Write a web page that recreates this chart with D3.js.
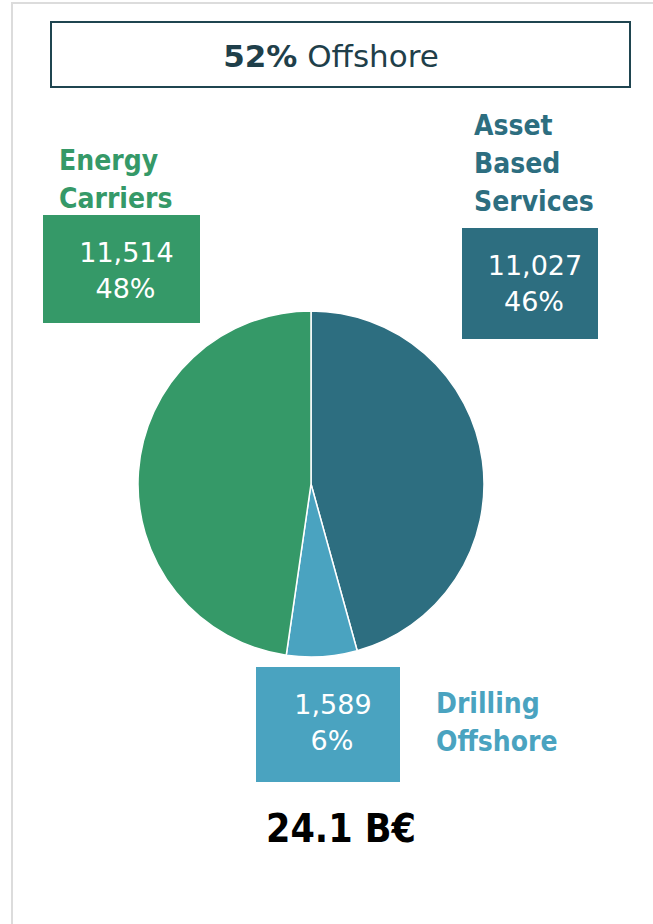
<!DOCTYPE html>
<html>
<head>
<meta charset="utf-8">
<script src="https://cdn.jsdelivr.net/npm/d3@7"></script>
<style>
  html, body { margin: 0; padding: 0; background: #fff; }
  svg { display: block; }
  text { font-family: "DejaVu Sans", sans-serif; }
  .cond { font-stretch: condensed; }
</style>
</head>
<body>
<svg id="chart" width="653" height="924"></svg>
<script>
// Revenue split by business segment (M€)
const segments = ["Asset Based Services", "Drilling Offshore", "Energy Carriers"];
const segmentLines = [["Asset", "Based", "Services"], ["Drilling", "Offshore"], ["Energy", "Carriers"]];
const values = [11027, 1589, 11514];
const shareLabels = ["46%", "6%", "48%"];
const colors = ["#2d6e80", "#4aa3c0", "#359968"];
const headlineShare = "52%";
const headlineText = "Offshore";
const totalLabel = "24.1 B€";

// Placement of each segment's callout (value box + name)
const callouts = [
  { box: [462, 228, 136, 111], name: [474, 135], anchor: "start" },
  { box: [256, 667, 144, 115], name: [436, 713], anchor: "start" },
  { box: [43, 215, 157, 108], name: [59, 170], anchor: "start" }
];

const svg = d3.select("#chart");

// light frame around the panel
svg.append("rect")
  .attr("x", 12).attr("y", 3)
  .attr("width", 700).attr("height", 1000)
  .attr("fill", "none").attr("stroke", "#dcdcdc").attr("stroke-width", 2);

// headline box
svg.append("rect")
  .attr("x", 51).attr("y", 22).attr("width", 579).attr("height", 65)
  .attr("fill", "#fff").attr("stroke", "#1f4550").attr("stroke-width", 2);
const head = svg.append("text")
  .attr("x", 331).attr("y", 67)
  .attr("text-anchor", "middle")
  .attr("font-size", 31).attr("fill", "#1f3f4a");
head.append("tspan").attr("font-weight", "bold").text(headlineShare);
head.append("tspan").text(" " + headlineText);

// pie
const cx = 311, cy = 484, radius = 173;
const pie = d3.pie().sort(null).value(d => d)(values);
const arc = d3.arc().innerRadius(0).outerRadius(radius);
svg.append("g")
  .attr("transform", `translate(${cx},${cy})`)
  .selectAll("path")
  .data(pie)
  .join("path")
  .attr("d", arc)
  .attr("fill", (d, i) => colors[i])
  .attr("stroke", "#fff")
  .attr("stroke-width", 1.5);

// callouts
const fmt = d3.format(",");
callouts.forEach((c, i) => {
  const [bx, by, bw, bh] = c.box;
  svg.append("rect")
    .attr("x", bx).attr("y", by).attr("width", bw).attr("height", bh)
    .attr("fill", colors[i]);
  const mid = bx + bw / 2 + 5;
  svg.append("text")
    .attr("x", mid).attr("y", by + 47)
    .attr("text-anchor", "middle").attr("font-size", 27).attr("fill", "#fff")
    .text(fmt(values[i]));
  svg.append("text")
    .attr("x", mid - 1).attr("y", by + 83)
    .attr("text-anchor", "middle").attr("font-size", 27).attr("fill", "#fff")
    .text(shareLabels[i]);
  segmentLines[i].forEach((line, j) => {
    svg.append("text")
      .attr("class", "cond")
      .attr("x", c.name[0]).attr("y", c.name[1] + j * 38)
      .attr("text-anchor", c.anchor)
      .attr("font-size", 28).attr("font-weight", "bold")
      .attr("fill", colors[i])
      .text(line);
  });
});

// total
svg.append("text")
  .attr("class", "cond")
  .attr("x", 341).attr("y", 842)
  .attr("text-anchor", "middle")
  .attr("font-size", 39).attr("font-weight", "bold").attr("fill", "#000")
  .text(totalLabel);
</script>
</body>
</html>
